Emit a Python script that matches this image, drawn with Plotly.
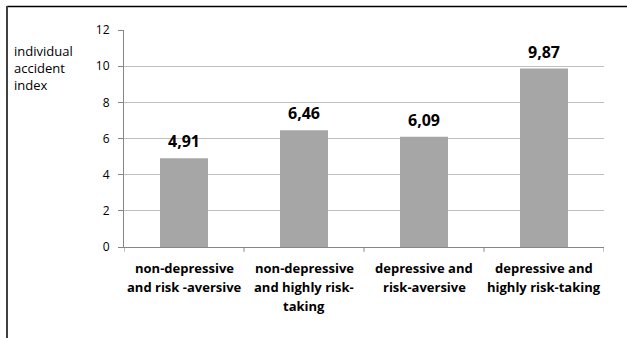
import plotly.graph_objects as go

# Chart data
categories = [
    ["non-depressive", "and risk -aversive"],
    ["non-depressive", "and highly risk-", "taking"],
    ["depressive and", "risk-aversive"],
    ["depressive and", "highly risk-taking"],
]
values = [4.91, 6.46, 6.09, 9.87]
value_labels = ["4,91", "6,46", "6,09", "9,87"]
y_ticks = [0, 2, 4, 6, 8, 10, 12]

W, H = 627, 338
L, R, T, B = 124, 23, 30, 91
FONT = "Open Sans, Liberation Sans, sans-serif"

xs = list(range(len(categories)))

fig = go.Figure(
    go.Bar(
        x=xs,
        y=values,
        width=0.4,
        marker=dict(color="#a6a6a6", line=dict(width=0)),
        hoverinfo="skip",
    )
)

fig.update_layout(
    width=W,
    height=H,
    margin=dict(l=L, r=R, t=T, b=B),
    paper_bgcolor="white",
    plot_bgcolor="white",
    showlegend=False,
    font=dict(family=FONT, color="#000000"),
)

fig.update_xaxes(
    range=[-0.5, len(categories) - 0.5],
    showticklabels=False,
    showgrid=False,
    showline=True,
    linecolor="#868686",
    linewidth=1,
    ticks="",
    zeroline=False,
    fixedrange=True,
)

# Tick marks at the category boundaries
for b in range(len(categories) + 1):
    fig.add_shape(
        type="line", xref="x", yref="paper",
        x0=b - 0.5, x1=b - 0.5, y0=0, y1=-0.022,
        line=dict(color="#868686", width=1),
    )

# Category labels, one line per annotation for even line spacing
for i, lines in enumerate(categories):
    for j, line in enumerate(lines):
        fig.add_annotation(
            text="<b>" + line + "</b>",
            x=i, xref="x", y=0, yref="paper",
            yanchor="middle", xanchor="center",
            yshift=-(21 + 19 * j),
            showarrow=False,
            font=dict(family=FONT, size=13, color="#000000"),
        )

# Value labels above the bars
for i, (v, lab) in enumerate(zip(values, value_labels)):
    fig.add_annotation(
        text="<b>" + lab + "</b>",
        x=i, xref="x", y=v, yref="y",
        yanchor="middle", xanchor="center",
        yshift=17,
        showarrow=False,
        font=dict(family=FONT, size=16, color="#000000"),
    )

fig.update_yaxes(
    range=[0, 12],
    tickmode="array",
    tickvals=y_ticks,
    ticktext=[str(v) for v in y_ticks],
    tickfont=dict(family=FONT, size=12, color="#000000"),
    ticklabelstandoff=6,
    showgrid=True,
    gridcolor="#bfbfbf",
    gridwidth=1,
    showline=True,
    linecolor="#868686",
    linewidth=1,
    ticks="outside",
    ticklen=5,
    tickcolor="#868686",
    zeroline=False,
    fixedrange=True,
)

px = lambda x: (x - L) / (W - L - R)
py = lambda y: (H - B - y) / (H - T - B)

# Axis title
fig.add_annotation(
    text="individual<br>accident<br>index",
    xref="paper", yref="paper",
    x=px(12), y=py(40),
    xanchor="left", yanchor="top", align="left",
    showarrow=False,
    font=dict(family=FONT, size=13, color="#000000"),
)

# Frame around the chart area
fig.add_shape(type="line", xref="paper", yref="paper",
              x0=px(7), x1=px(W), y0=py(6.5), y1=py(6.5),
              line=dict(color="#000000", width=1.5))
fig.add_shape(type="line", xref="paper", yref="paper",
              x0=px(7), x1=px(7), y0=py(6), y1=py(H),
              line=dict(color="#404040", width=2))

fig.write_html("out.html")
